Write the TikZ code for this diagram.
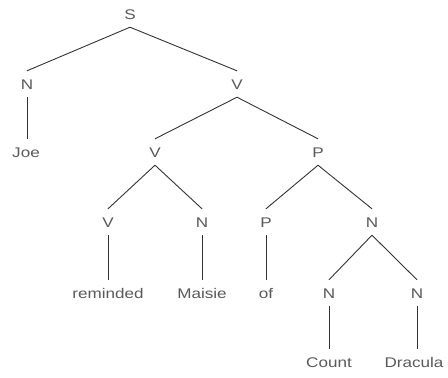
\documentclass[tikz,border=0pt]{standalone}
\usepackage{fontspec}
\setmainfont[FakeStretch=1.22]{Liberation Sans}
\begin{document}
\begin{tikzpicture}[x=1pt,y=-1pt,
  lbl/.style={inner xsep=0pt,inner ysep=8pt,text height=10pt,text depth=0pt,
    font=\fontsize{14}{16}\selectfont,text=black!65},
  edge/.style={draw=black!80,line width=0.9pt}]
\useasboundingbox (0,0) rectangle (448,378);
\node[lbl] (s) at (130,14) {S};
\node[lbl] (n1) at (27,84) {N};
\node[lbl] (v1) at (237,84) {V};
\node[lbl] (joe) at (26,152) {Joe};
\node[lbl] (v2) at (155,152) {V};
\node[lbl] (p1) at (318,152) {P};
\node[lbl] (v3) at (108,222) {V};
\node[lbl] (n2) at (202,222) {N};
\node[lbl] (p2) at (266,222) {P};
\node[lbl] (n3) at (372,222) {N};
\node[lbl] (rem) at (108,293) {reminded};
\node[lbl] (mai) at (202,293) {Maisie};
\node[lbl] (of) at (266,293) {of};
\node[lbl] (n4) at (329,293) {N};
\node[lbl] (n5) at (417,293) {N};
\node[lbl] (cnt) at (329,362) {Count};
\node[lbl] (dra) at (414,362) {Dracula};
\draw[edge] (s.south) -- (n1.north);
\draw[edge] (s.south) -- (v1.north);
\draw[edge] (n1.south) -- (n1.south |- joe.north);
\draw[edge] (v1.south) -- (v2.north);
\draw[edge] (v1.south) -- (p1.north);
\draw[edge] (v2.south) -- (v3.north);
\draw[edge] (v2.south) -- (n2.north);
\draw[edge] (p1.south) -- (p2.north);
\draw[edge] (p1.south) -- (n3.north);
\draw[edge] (v3.south) -- (rem.north);
\draw[edge] (n2.south) -- (mai.north);
\draw[edge] (p2.south) -- (of.north);
\draw[edge] (n3.south) -- (n4.north);
\draw[edge] (n3.south) -- (n5.north);
\draw[edge] (n4.south) -- (cnt.north);
\draw[edge] (n5.south) -- (n5.south |- dra.north);
\end{tikzpicture}
\end{document}
